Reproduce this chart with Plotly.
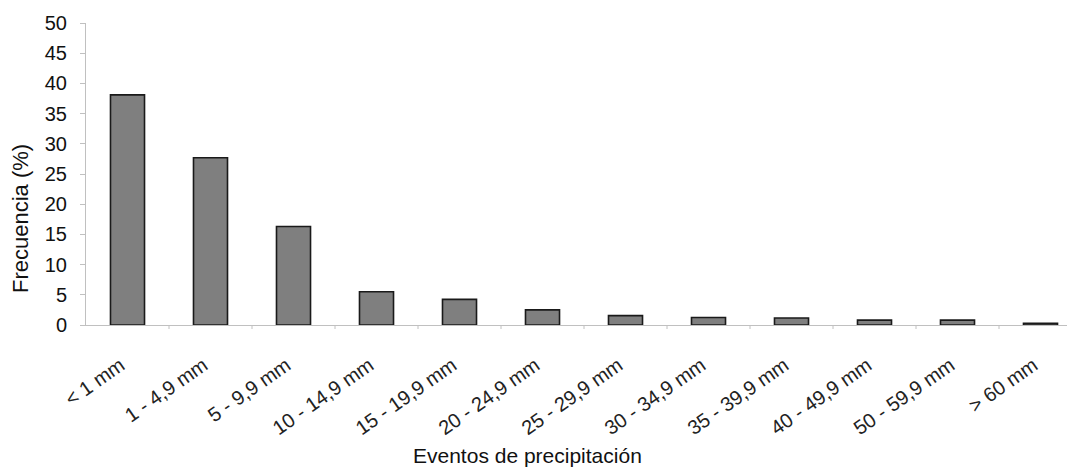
import plotly.graph_objects as go

categories = ["< 1 mm", "1 - 4,9 mm", "5 - 9,9 mm", "10 - 14,9 mm", "15 - 19,9 mm",
              "20 - 24,9 mm", "25 - 29,9 mm", "30 - 34,9 mm", "35 - 39,9 mm",
              "40 - 49,9 mm", "50 - 59,9 mm", "> 60 mm"]
frecuencia = [38.1, 27.7, 16.3, 5.5, 4.25, 2.5, 1.55, 1.25, 1.15, 0.8, 0.8, 0.3]
y_ticks = [0, 5, 10, 15, 20, 25, 30, 35, 40, 45, 50]

# page has an 8px body margin; figure sized/placed to compensate
OFF = 8
W, H = 1075 - OFF, 468 - OFF
L, R, T = 86 - OFF, 0, 23 - OFF
B = H - (325 - OFF)
pw, ph = W - L - R, H - T - B

fig = go.Figure(go.Bar(
    x=list(range(len(categories))), y=frecuencia,
    width=0.41,
    marker=dict(color="#7f7f7f", line=dict(color="#1a1a1a", width=1.6)),
))

fig.update_layout(
    width=W, height=H,
    margin=dict(l=L, r=R, t=T, b=B, autoexpand=False),
    plot_bgcolor="white", paper_bgcolor="white",
    showlegend=False,
    font=dict(family="Liberation Sans, Arial, sans-serif", color="#111"),
    xaxis=dict(
        range=[-0.5, -0.5 + pw / 83.0],
        tickmode="array", tickvals=list(range(len(categories))), ticktext=categories,
        tickangle=-35, tickfont=dict(size=20, color="#222"),
        showline=True, linecolor="#c0c0c0", linewidth=1,
        showgrid=False, zeroline=False, ticks="", automargin=False,
        ticklabelstandoff=20, ticklabelshift=-7,
    ),
    yaxis=dict(
        range=[0, 50], tickmode="array", tickvals=y_ticks,
        tickfont=dict(size=20, color="#111"),
        showline=True, linecolor="#c0c0c0", linewidth=1,
        ticks="outside", ticklen=5, tickcolor="#c0c0c0",
        showgrid=False, zeroline=False, automargin=False,
        ticklabelstandoff=9,
    ),
)

# x-axis boundary tick marks between categories
for i in range(len(categories)):
    fig.add_shape(type="line", xref="x", yref="paper",
                  x0=i + 0.5, x1=i + 0.5, y0=0, y1=-4 / ph,
                  line=dict(color="#c0c0c0", width=1))

fig.add_annotation(text="Frecuencia (%)", xref="paper", yref="paper",
                   x=(20 - OFF - L) / pw, y=(325 - 219) / ph, textangle=-90,
                   showarrow=False, font=dict(size=22, color="#111"),
                   xanchor="center", yanchor="middle")
fig.add_annotation(text="Eventos de precipitación", xref="paper", yref="paper",
                   x=(527 - OFF - L) / pw, y=(325 - 455) / ph,
                   showarrow=False, font=dict(size=21, color="#111"),
                   xanchor="center", yanchor="middle")

fig.write_html("out.html")
